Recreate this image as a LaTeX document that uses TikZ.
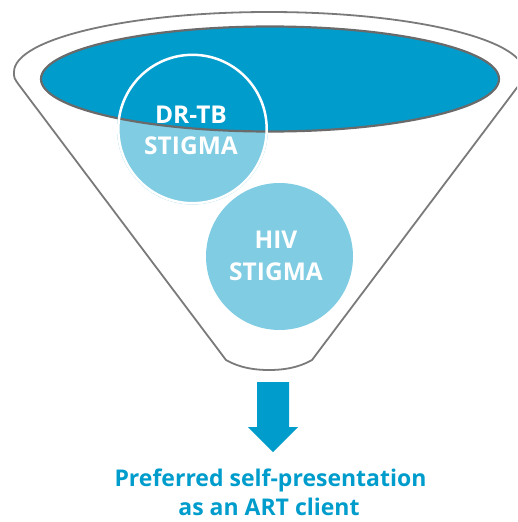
\documentclass[tikz,border=0pt]{standalone}
\usepackage{fontspec}
\setmainfont{Open Sans}
\usetikzlibrary{shapes.geometric}
\definecolor{dblue}{HTML}{009CCC}
\definecolor{lblue}{HTML}{7FCCE3}
\definecolor{rimgray}{HTML}{7A7A7A}
\definecolor{ellgray}{HTML}{6A6A6A}
\begin{document}
\begin{tikzpicture}[x=1pt,y=-1pt,
  rim/.style={draw=rimgray, line width=1.8pt, line join=round},
  blob/.style={circle, fill=lblue, minimum size=#1, inner sep=0pt},
  mouth/.style={ellipse, draw=ellgray, line width=2.2pt, fill=dblue, inner sep=0pt},
  circtext/.style={text=white, font=\bfseries\fontsize{24.5}{30}\selectfont, anchor=base, inner sep=0pt},
  outtext/.style={text=dblue, font=\bfseries\fontsize{23}{29}\selectfont, anchor=base, inner sep=0pt}]
\useasboundingbox (0,0) rectangle (517,522);
\clip (0,0) rectangle (517,522);
% funnel outline
\draw[rim] (226,360) -- (19,85) .. controls (14,78) .. (14,72)
  arc[start angle=180, end angle=360, x radius=255, y radius=60]
  .. controls (524,78) .. (519,85) -- (312,360)
  .. controls (298,368) and (283,370) .. (269,370)
  .. controls (255,370) and (240,368) .. (226,360) -- cycle;
% circles
\node[blob=151pt] (drtb) at (192.5,129) {};
\node[blob=147pt] (hiv) at (279.5,256.5) {};
% mouth of funnel
\node[mouth, minimum width=458pt, minimum height=105pt] (top) at (270,79) {};
\draw[white, line width=2.5pt] (drtb.center) circle[radius=74.2];
% labels
\node[circtext] (d1) at (191,123) {DR-TB};
\node[circtext] (d2) at (191,154) {STIGMA};
\node[circtext] (h1) at (276,248) {HIV};
\node[circtext] (h2) at (276,280) {STIGMA};
% block arrow
\fill[dblue] (257,382) -- (289,382) -- (289,427) -- (298,427) -- (273,452)
  -- (248,427) -- (257,427) -- cycle;
\node[outtext] (o1) at (270.5,486) {Preferred self-presentation};
\node[outtext] (o2) at (269,515) {as an ART client};
\end{tikzpicture}
\end{document}
